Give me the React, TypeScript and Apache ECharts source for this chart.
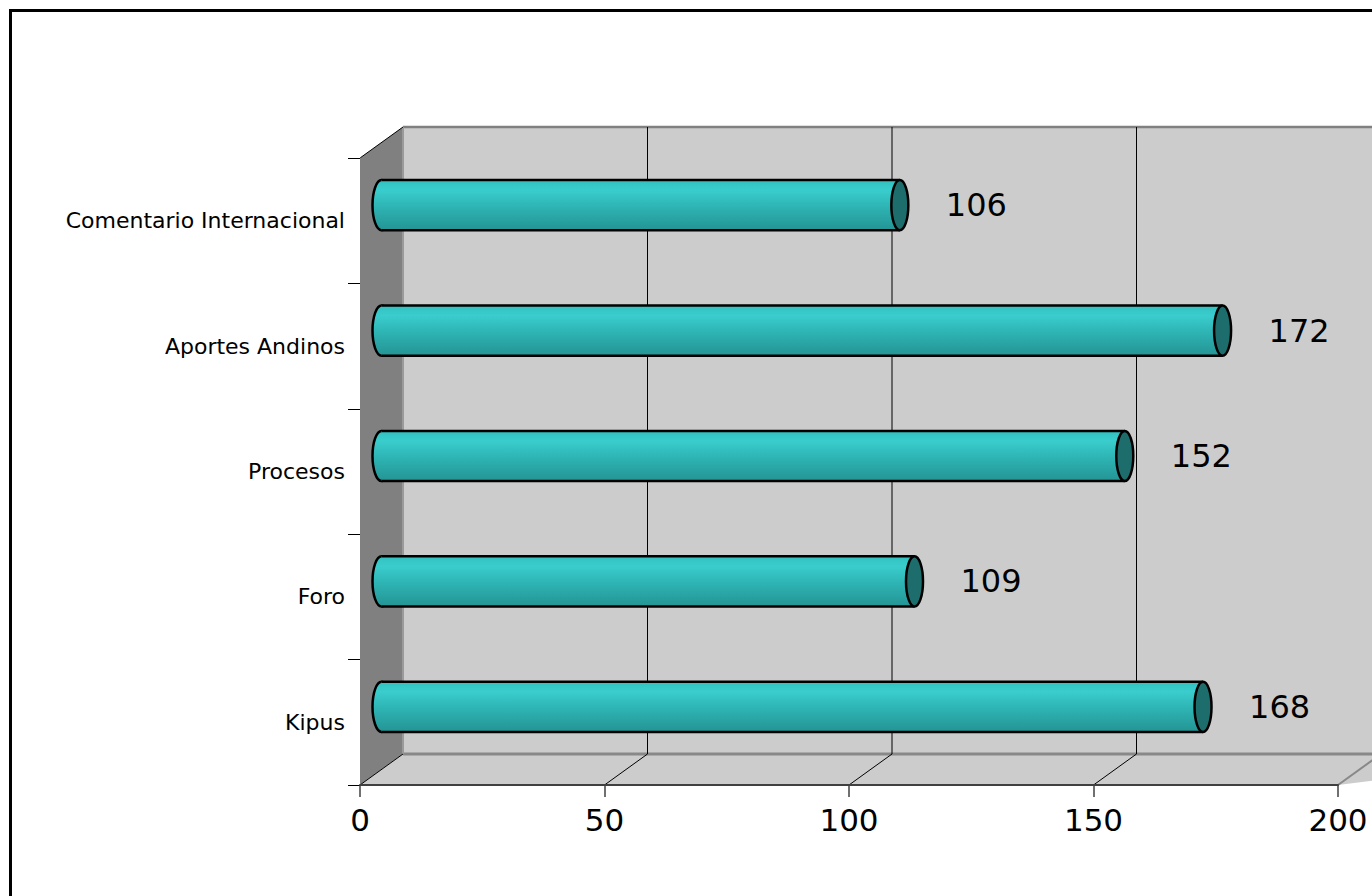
import React, { useEffect, useRef } from "react";
import * as echarts from "echarts";

const categories = ["Comentario Internacional", "Aportes Andinos", "Procesos", "Foro", "Kipus"];
const values = [106, 172, 152, 109, 168];
const xTicks = [0, 50, 100, 150, 200];

const DX = 43;
const DY = -31;
const FONT = "DejaVu Sans";

export default function App() {
  const ref = useRef<HTMLDivElement>(null);

  useEffect(() => {
    if (!ref.current) return;
    const chart = echarts.init(ref.current, undefined, { renderer: "svg" });

    const wallsItem = (params: any, api: any) => {
      const cs = params.coordSys;
      const L = cs.x, T = cs.y, R = cs.x + cs.width, B = cs.y + cs.height;
      const children: any[] = [
        { type: "polygon", shape: { points: [[L + DX, T + DY], [R + DX + 200, T + DY], [R + DX + 200, B + DY], [L + DX, B + DY]] }, style: { fill: "#cccccc" } },
        { type: "polygon", shape: { points: [[L, T], [L + DX, T + DY], [L + DX, B + DY], [L, B]] }, style: { fill: "#808080" } },
        { type: "polygon", shape: { points: [[L, B], [L + DX, B + DY], [R + DX + 200, B + DY], [R, B]] }, style: { fill: "#cccccc" } },
        { type: "line", shape: { x1: L + DX, y1: T + DY, x2: R + DX + 200, y2: T + DY }, style: { stroke: "#808080", lineWidth: 2.5 } },
        { type: "line", shape: { x1: L + DX, y1: B + DY, x2: R + DX + 200, y2: B + DY }, style: { stroke: "#888888", lineWidth: 3 } },
        { type: "line", shape: { x1: L + DX, y1: T + DY, x2: L + DX, y2: B + DY }, style: { stroke: "#9a9a9a", lineWidth: 2 } },
        { type: "line", shape: { x1: L, y1: T, x2: L + DX, y2: T + DY }, style: { stroke: "#000", lineWidth: 1 } },
        { type: "line", shape: { x1: L, y1: B, x2: L + DX, y2: B + DY }, style: { stroke: "#000", lineWidth: 1 } },
        { type: "line", shape: { x1: R, y1: B, x2: R + DX, y2: B + DY }, style: { stroke: "#888888", lineWidth: 2 } },
      ];
      xTicks.forEach((t) => {
        if (t === xTicks[0] || t === xTicks[xTicks.length - 1]) return;
        const xb = api.coord([t, 0])[0];
        children.push({ type: "line", shape: { x1: xb + DX, y1: T + DY, x2: xb + DX, y2: B + DY }, style: { stroke: "#000", lineWidth: 1 } });
        children.push({ type: "line", shape: { x1: xb + DX, y1: B + DY, x2: xb, y2: B }, style: { stroke: "#000", lineWidth: 1 } });
      });
      return { type: "group", children };
    };

    const bodyFill = {
      type: "linear", x: 0, y: 0, x2: 0, y2: 1,
      colorStops: [
        { offset: 0, color: "#32c0c0" },
        { offset: 0.2, color: "#3acdcd" },
        { offset: 0.5, color: "#2fb6b6" },
        { offset: 1, color: "#249494" },
      ],
    };

    const barItem = (params: any, api: any) => {
      const v = api.value(0);
      const c = api.value(1);
      const end = api.coord([v, c]);
      const start = api.coord([0, c]);
      const band = api.size([0, 1])[1];
      const h = band * 0.4;
      const ry = h / 2;
      const rx = 8.5;
      const x0 = start[0] + DX / 2;
      const x1 = end[0] + DX / 2;
      const cy = end[1] + DY / 2;
      return {
        type: "group",
        children: [
          { type: "ellipse", shape: { cx: x0, cy, rx: rx + 0.5, ry }, style: { fill: bodyFill, stroke: "#000", lineWidth: 2.5 } },
          { type: "rect", shape: { x: x0, y: cy - ry, width: x1 - x0, height: h }, style: { fill: bodyFill } },
          { type: "line", shape: { x1: x0, y1: cy - ry, x2: x1, y2: cy - ry }, style: { stroke: "#000", lineWidth: 2.5 } },
          { type: "line", shape: { x1: x0, y1: cy + ry, x2: x1, y2: cy + ry }, style: { stroke: "#000", lineWidth: 2.5 } },
          { type: "ellipse", shape: { cx: x1, cy, rx, ry }, style: { fill: "#1d6d6d", stroke: "#000", lineWidth: 2.5 } },
          {
            type: "text",
            style: {
              x: x1 + 46, y: cy, text: String(v), fill: "#000", fontSize: 32, fontFamily: FONT,
              textAlign: "left", textVerticalAlign: "middle",
            },
          },
        ],
      };
    };

    chart.setOption({
      animation: false,
      textStyle: { fontFamily: FONT },
      grid: { left: 348, top: 146, width: 978, height: 627, containLabel: false },
      xAxis: {
        type: "value", min: 0, max: 200, interval: 50, z: 10,
        axisLine: { show: true, lineStyle: { color: "#404040", width: 2 } },
        axisTick: { show: true, length: 12, lineStyle: { color: "#404040", width: 1.5 } },
        axisLabel: { fontSize: 31, color: "#000", margin: 19, fontFamily: FONT },
        splitLine: { show: false },
      },
      yAxis: {
        type: "category", data: categories, inverse: true, z: 10,
        axisLine: { show: true, lineStyle: { color: "#808080", width: 1 } },
        axisTick: { show: true, length: 12, lineStyle: { color: "#000", width: 1 } },
        axisLabel: { fontSize: 22, color: "#000", margin: 15, fontFamily: FONT },
        splitLine: { show: false },
      },
      series: [
        { type: "custom", z: 1, clip: false, renderItem: wallsItem, data: [[0, 0]], silent: true },
        { type: "custom", z: 3, clip: false, renderItem: barItem, data: values.map((v, i) => [v, i]) },
      ],
    });

    return () => chart.dispose();
  }, []);

  return (
    <div style={{ position: "fixed", left: 0, top: 0, width: 1372, height: 896, overflow: "hidden", background: "#fff" }}>
      <div style={{ position: "absolute", left: 9, top: 9, border: "3px solid #000", background: "#fff" }}>
        <div ref={ref} style={{ width: 1440, height: 940 }} />
      </div>
    </div>
  );
}
